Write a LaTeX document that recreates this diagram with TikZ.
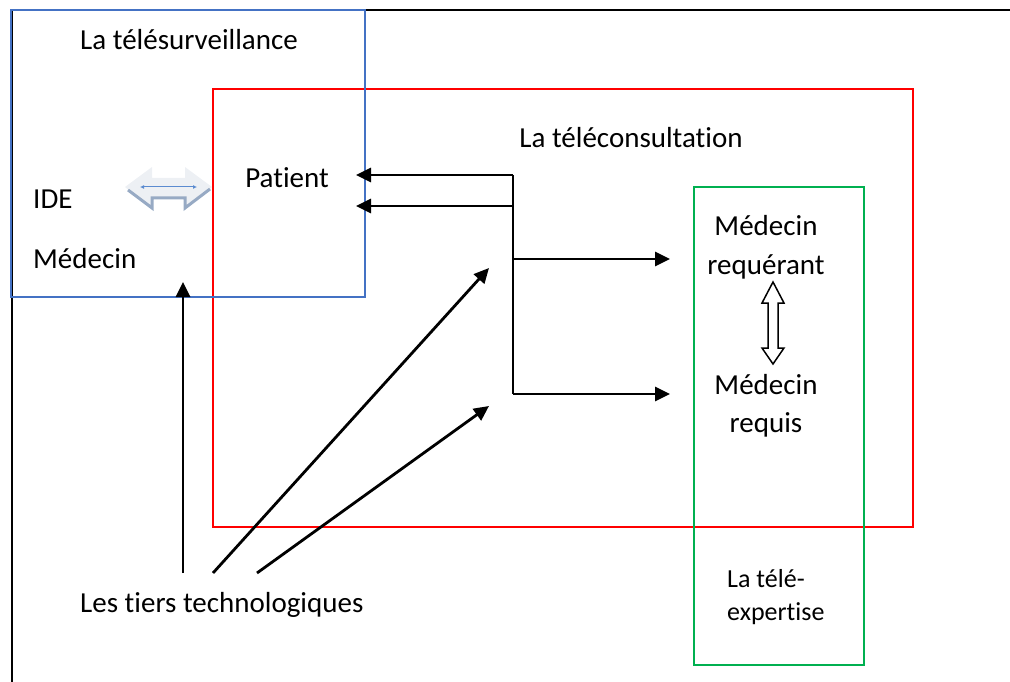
\documentclass[tikz,border=0pt]{standalone}
\usepackage{fontspec}
\setmainfont{Carlito}[Ligatures=NoCommon]
\usetikzlibrary{arrows.meta}
\definecolor{offblue}{HTML}{4472C4}
\definecolor{offred}{HTML}{FF0000}
\definecolor{offgreen}{HTML}{00B050}
\definecolor{arrlight}{HTML}{EDF0F4}
\definecolor{arrshade}{HTML}{97AAC4}
\definecolor{arrline}{HTML}{5B8BD0}
\begin{document}
\begin{tikzpicture}[x=1pt,y=-1pt,
  lbl/.style={inner sep=0pt,font=\fontsize{29}{35}\selectfont},
  lblsmall/.style={inner sep=0pt,font=\fontsize{26}{31}\selectfont},
  conn/.style={line width=2.8pt,-{Triangle[length=15pt,width=14pt]}},
  plain/.style={line width=2.8pt}]
\useasboundingbox (0,0) rectangle (1010,682);
\clip (0,0) rectangle (1010,682);
% outer frame
\draw[line width=2.2pt] (12,700) -- (12,10) -- (1020,10);
% boxes
\draw[offred,line width=1.8pt] (213,89) rectangle (913,527);
\draw[offgreen,line width=1.8pt] (694,187) rectangle (864,665);
\draw[offblue,line width=1.8pt,fill=none] (11,10) rectangle (365,297);
% texts
\node[lbl,anchor=base] (tsurv) at (189,50) {La télésurveillance};
\node[lbl,anchor=base] (tcons) at (631,148) {La téléconsultation};
\node[lbl,anchor=base] (patient) at (287,187) {Patient};
\node[lbl,anchor=base west] (ide) at (33,208) {IDE};
\node[lbl,anchor=base west] (medecin) at (33,268) {Médecin};
\node[lbl,anchor=base] (mreq1) at (766,236) {Médecin};
\node[lbl,anchor=base] (mreq2) at (766,274) {requérant};
\node[lbl,anchor=base] (mrqs1) at (766,394) {Médecin};
\node[lbl,anchor=base] (mrqs2) at (766,432) {requis};
\node[lblsmall,anchor=base west] (texp1) at (727,587) {La télé-};
\node[lblsmall,anchor=base west] (texp2) at (727,620) {expertise};
\node[lbl,anchor=base west] (tiers) at (80,612) {Les tiers technologiques};
% connector coordinates
\coordinate (ja) at (513,175);
\coordinate (jb) at (513,206);
\coordinate (jc) at (513,259);
\coordinate (jd) at (513,394);
\coordinate (pa) at (356,175);
\coordinate (pb) at (356,206);
\coordinate (ma) at (670,259);
\coordinate (mb) at (670,394);
\coordinate (t1) at (183,573);
\coordinate (t2) at (213,573);
\coordinate (t3) at (257,573);
\coordinate (e1) at (183,282);
\coordinate (e2) at (489,268);
\coordinate (e3) at (489,406);
% connectors
\draw[plain] (ja) -- (jd);
\draw[conn] (ja) -- (pa);
\draw[conn] (jb) -- (pb);
\draw[conn] (jc) -- (ma);
\draw[conn] (jd) -- (mb);
\draw[conn] (t1) -- (e1);
\draw[conn] (t2) -- (e2);
\draw[conn] (t3) -- (e3);
% light double arrow (IDE <-> Patient)
\fill[arrlight] (125,187) -- (152,167) -- (152,178) -- (185,178) -- (185,167) -- (212,187) -- (185,210) -- (185,197) -- (152,197) -- (152,210) -- cycle;
\draw[arrshade,line width=3pt,line join=miter] (128,190) -- (152,208) -- (152,198) -- (185,198) -- (185,208) -- (210,189);
\draw[arrline,line width=1pt,{Latex[length=4pt,width=4pt]}-{Latex[length=4pt,width=4pt]}] (140,187) -- (197,187);
% hollow vertical double arrow
\draw[line width=1.5pt,fill=white,line join=miter] (773,282) -- (784,303) -- (778,303) -- (778,348) -- (784,348) -- (773,364) -- (762,348) -- (768,348) -- (768,303) -- (762,303) -- cycle;
\end{tikzpicture}
\end{document}
